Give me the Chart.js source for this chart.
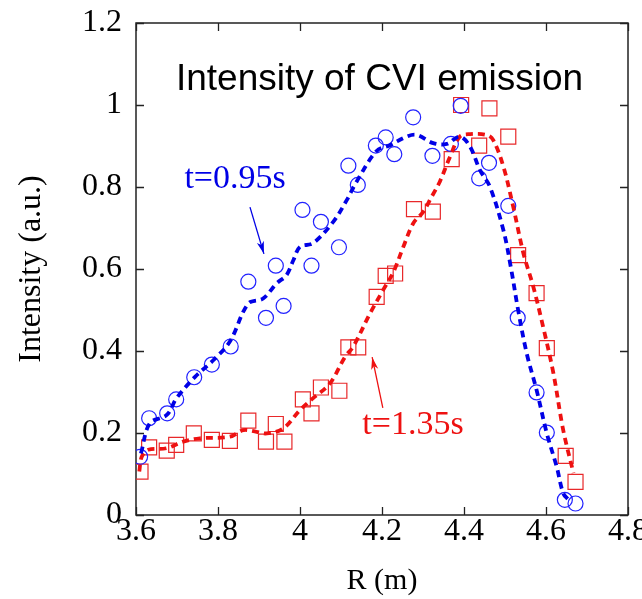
<!DOCTYPE html>
<html>
<head>
<meta charset="utf-8">
<script src="https://cdn.jsdelivr.net/npm/chart.js@4.4.0/dist/chart.umd.min.js"></script>
<style>
  html, body { margin: 0; padding: 0; background: #ffffff; }
  #wrap { width: 642px; height: 599px; }
</style>
</head>
<body>
<div id="wrap"><canvas id="c" width="642" height="599"></canvas></div>
<script>
// ---- Data ----
const xTickLabels = ['3.6', '3.8', '4', '4.2', '4.4', '4.6', '4.8'];
const yTickLabels = ['0', '0.2', '0.4', '0.6', '0.8', '1', '1.2'];

// t = 0.95 s measured points (circles)
const blueR = [3.610, 3.632, 3.676, 3.698, 3.742, 3.785, 3.831, 3.874, 3.917, 3.941, 3.960, 4.006, 4.028, 4.051, 4.095, 4.118, 4.141, 4.185, 4.209, 4.230, 4.276, 4.323, 4.368, 4.392, 4.437, 4.461, 4.508, 4.531, 4.577, 4.602, 4.646, 4.672];
const blueI = [0.142, 0.236, 0.248, 0.282, 0.336, 0.367, 0.411, 0.569, 0.481, 0.608, 0.510, 0.744, 0.608, 0.715, 0.653, 0.852, 0.805, 0.901, 0.921, 0.880, 0.970, 0.876, 0.905, 0.998, 0.821, 0.859, 0.754, 0.481, 0.299, 0.201, 0.037, 0.028];

// t = 1.35 s measured points (squares)
const redR = [3.611, 3.632, 3.675, 3.698, 3.741, 3.785, 3.829, 3.874, 3.917, 3.941, 3.962, 4.007, 4.028, 4.051, 4.096, 4.118, 4.142, 4.187, 4.209, 4.232, 4.278, 4.324, 4.370, 4.393, 4.437, 4.462, 4.508, 4.532, 4.577, 4.602, 4.648, 4.672];
const redI = [0.106, 0.165, 0.157, 0.171, 0.199, 0.183, 0.181, 0.230, 0.179, 0.222, 0.179, 0.282, 0.248, 0.311, 0.303, 0.409, 0.409, 0.532, 0.583, 0.589, 0.746, 0.740, 0.868, 1.000, 0.901, 0.992, 0.923, 0.634, 0.541, 0.407, 0.144, 0.081];

// smoothed profiles (dashed curves)
const blueFitR = [3.612, 3.634, 3.675, 3.699, 3.744, 3.789, 3.829, 3.874, 3.910, 3.943, 3.967, 3.984, 4.000, 4.032, 4.081, 4.114, 4.138, 4.187, 4.220, 4.260, 4.285, 4.325, 4.358, 4.390, 4.415, 4.439, 4.463, 4.496, 4.515, 4.532, 4.553, 4.577, 4.602, 4.626, 4.642, 4.655];
const blueFitI = [0.150, 0.224, 0.244, 0.285, 0.337, 0.378, 0.423, 0.516, 0.528, 0.565, 0.585, 0.622, 0.654, 0.663, 0.715, 0.768, 0.813, 0.888, 0.902, 0.923, 0.927, 0.907, 0.905, 0.923, 0.898, 0.841, 0.801, 0.695, 0.600, 0.500, 0.394, 0.305, 0.199, 0.118, 0.053, 0.037];

const redFitR = [3.608, 3.614, 3.630, 3.675, 3.715, 3.756, 3.829, 3.862, 3.894, 3.919, 3.959, 4.000, 4.032, 4.073, 4.110, 4.130, 4.171, 4.203, 4.228, 4.252, 4.276, 4.301, 4.321, 4.341, 4.366, 4.390, 4.415, 4.455, 4.471, 4.496, 4.520, 4.545, 4.569, 4.593, 4.618, 4.642, 4.667];
const redFitI = [0.106, 0.142, 0.159, 0.163, 0.179, 0.187, 0.191, 0.207, 0.203, 0.199, 0.211, 0.256, 0.285, 0.321, 0.386, 0.411, 0.492, 0.549, 0.593, 0.654, 0.711, 0.740, 0.776, 0.813, 0.874, 0.923, 0.929, 0.927, 0.915, 0.850, 0.752, 0.638, 0.557, 0.459, 0.346, 0.207, 0.102];

// ---- Styles ----
const BLUE_MARK = '#2222ff';
const BLUE_LINE = '#0000e6';
const RED_MARK = '#e8282a';
const RED_LINE = '#ee1111';
const SERIF = '"Liberation Serif", "Times New Roman", serif';
const SANS = '"Liberation Sans", Arial, sans-serif';

const pts = (xs, ys) => xs.map((x, i) => ({ x: x, y: ys[i] }));

const framePlugin = {
  id: 'frame',
  beforeDatasetsDraw(chart) {
    const { ctx, chartArea: a, scales: { x, y } } = chart;
    ctx.save();
    ctx.strokeStyle = '#222';
    ctx.lineWidth = 1.5;
    ctx.strokeRect(a.left, a.top, a.right - a.left, a.bottom - a.top);
    ctx.lineWidth = 1.3;
    const L = 8;
    ctx.beginPath();
    x.ticks.forEach(t => {
      const px = Math.round(x.getPixelForValue(t.value)) + 0.5;
      ctx.moveTo(px, a.bottom); ctx.lineTo(px, a.bottom - L);
      ctx.moveTo(px, a.top); ctx.lineTo(px, a.top + L);
    });
    y.ticks.forEach(t => {
      const py = Math.round(y.getPixelForValue(t.value)) + 0.5;
      ctx.moveTo(a.left, py); ctx.lineTo(a.left + L, py);
      ctx.moveTo(a.right, py); ctx.lineTo(a.right - L, py);
    });
    ctx.stroke();
    ctx.restore();
  }
};

function arrow(ctx, x0, y0, x1, y1, color) {
  const ang = Math.atan2(y1 - y0, x1 - x0);
  const h = 13, w = 0.28;
  ctx.save();
  ctx.strokeStyle = color; ctx.fillStyle = color; ctx.lineWidth = 1.3;
  ctx.beginPath(); ctx.moveTo(x0, y0); ctx.lineTo(x1, y1); ctx.stroke();
  ctx.beginPath();
  ctx.moveTo(x1, y1);
  ctx.lineTo(x1 - h * Math.cos(ang - w), y1 - h * Math.sin(ang - w));
  ctx.lineTo(x1 - h * 0.7 * Math.cos(ang), y1 - h * 0.7 * Math.sin(ang));
  ctx.lineTo(x1 - h * Math.cos(ang + w), y1 - h * Math.sin(ang + w));
  ctx.closePath(); ctx.fill();
  ctx.restore();
}

const annotPlugin = {
  id: 'annot',
  afterDraw(chart) {
    const { ctx, scales: { x, y } } = chart;
    const X = v => x.getPixelForValue(v), Y = v => y.getPixelForValue(v);
    ctx.save();
    ctx.textBaseline = 'alphabetic';
    // title inside the plot
    ctx.fillStyle = '#000';
    ctx.font = '37px ' + SANS;
    ctx.textAlign = 'center';
    ctx.fillText('Intensity of CVI emission', X(4.194), Y(1.036));
    // labels
    ctx.textAlign = 'left';
    ctx.font = '34px ' + SERIF;
    ctx.fillStyle = BLUE_LINE;
    ctx.fillText('t=0.95s', X(3.718), Y(0.798));
    ctx.fillStyle = RED_LINE;
    ctx.fillText('t=1.35s', X(4.152), Y(0.198));
    ctx.restore();
    arrow(ctx, X(3.878), Y(0.751), X(3.912), Y(0.637), BLUE_LINE);
    arrow(ctx, X(4.202), Y(0.261), X(4.176), Y(0.385), RED_LINE);
  }
};

new Chart(document.getElementById('c'), {
  type: 'scatter',
  data: {
    datasets: [
      {
        label: 't=0.95s fit', data: pts(blueFitR, blueFitI), showLine: true,
        borderColor: BLUE_LINE, borderWidth: 3.8, borderDash: [7, 5], pointRadius: 0,
        tension: 0.35, fill: false
      },
      {
        label: 't=1.35s fit', data: pts(redFitR, redFitI), showLine: true,
        borderColor: RED_LINE, borderWidth: 3.8, borderDash: [7, 5], pointRadius: 0,
        tension: 0.35, fill: false
      },
      {
        label: 't=0.95s', data: pts(blueR, blueI), pointStyle: 'circle',
        pointRadius: 7.5, pointBorderWidth: 1.2, borderColor: BLUE_MARK,
        backgroundColor: 'rgba(0,0,0,0)', pointBackgroundColor: 'rgba(0,0,0,0)'
      },
      {
        label: 't=1.35s', data: pts(redR, redI), pointStyle: 'rect',
        pointRadius: 10.6, pointBorderWidth: 1.2, borderColor: RED_MARK,
        backgroundColor: 'rgba(0,0,0,0)', pointBackgroundColor: 'rgba(0,0,0,0)'
      }
    ]
  },
  options: {
    responsive: false,
    animation: false,
    events: [],
    layout: { autoPadding: false, padding: { left: 0, top: 23, right: 14, bottom: 0 } },
    plugins: { legend: { display: false }, tooltip: { enabled: false }, title: { display: false } },
    scales: {
      x: {
        type: 'linear', position: 'bottom', min: 3.6, max: 4.8,
        grid: { display: false, drawTicks: false },
        border: { display: false },
        ticks: {
          stepSize: 0.2, color: '#000', padding: 1, maxRotation: 0, autoSkip: false,
          font: { family: SERIF, size: 32, lineHeight: 1 },
          callback: (v, i) => xTickLabels[i]
        },
        title: {
          display: true, text: 'R (m)', color: '#000',
          font: { family: SERIF, size: 30, lineHeight: 0.6 }, padding: { top: 0, bottom: 9 }
        },
        afterFit: s => { s.height = 84; s.paddingLeft = 0; s.paddingRight = 0; }
      },
      y: {
        type: 'linear', position: 'left', min: 0, max: 1.2,
        grid: { display: false, drawTicks: false },
        border: { display: false },
        ticks: {
          stepSize: 0.2, color: '#000', padding: 14,
          font: { family: SERIF, size: 32, lineHeight: 1 },
          callback: (v, i) => yTickLabels[i]
        },
        title: {
          display: true, text: 'Intensity (a.u.)', color: '#000',
          font: { family: SERIF, size: 32, lineHeight: 1.2 }, padding: { top: 12, bottom: 0 }
        },
        afterFit: s => { s.width = 136; s.paddingTop = 0; s.paddingBottom = 0; }
      }
    }
  },
  plugins: [framePlugin, annotPlugin]
});
</script>
</body>
</html>
